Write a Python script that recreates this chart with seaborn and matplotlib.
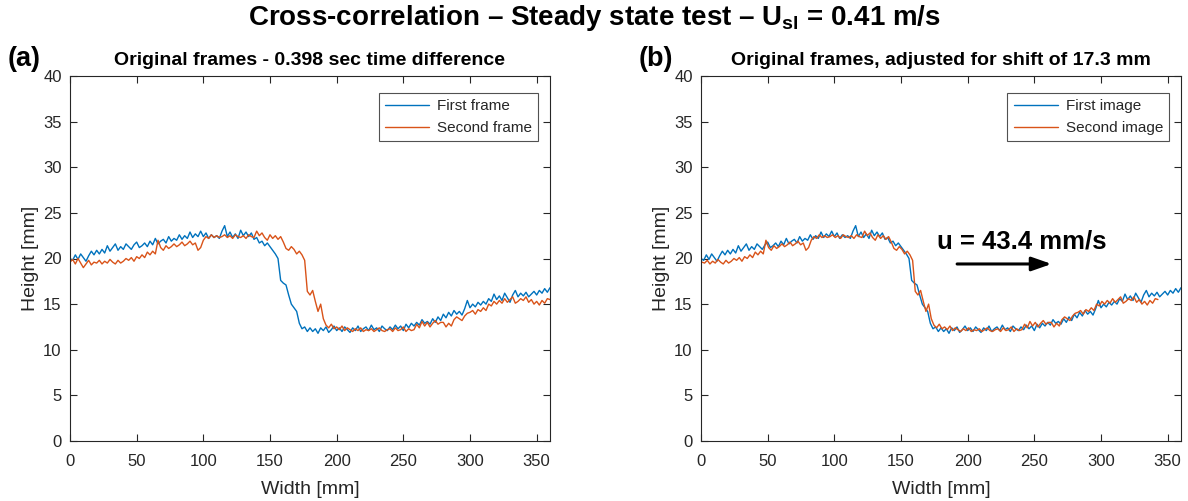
import numpy as np
import pandas as pd
import matplotlib
matplotlib.use("Agg")
import matplotlib.pyplot as plt
import seaborn as sns

# ---------------- data ----------------
width_mm = list(range(0, 361, 2))
shift_mm = 17.3

first_frame = [
    20.0, 19.8, 20.4, 19.9, 20.5, 20.1, 19.7, 20.3, 20.8, 20.4,
    20.9, 20.5, 21.0, 20.6, 21.4, 20.8, 21.2, 21.6, 20.9, 21.3,
    21.0, 21.6, 21.3, 21.0, 21.5, 21.8, 21.2, 21.4, 21.7, 21.3,
    21.9, 21.5, 22.2, 21.6, 21.9, 22.1, 21.7, 22.4, 21.9, 22.2,
    22.0, 22.6, 22.1, 22.5, 22.2, 22.9, 22.3, 22.7, 22.4, 23.0,
    22.4, 22.8, 22.2, 22.6, 22.3, 22.5, 22.2, 23.0, 23.6, 22.4,
    22.9, 22.3, 22.7, 22.2, 23.1, 22.5, 22.9, 22.4, 22.8, 22.1,
    22.3, 21.7, 21.9, 21.4, 21.7, 21.3, 20.9, 20.5, 20.0, 17.6,
    17.3, 17.1, 16.0, 15.0, 14.6, 14.2, 12.9, 12.3, 12.5, 12.0,
    12.4, 12.0, 12.3, 11.8, 12.4, 12.1, 12.5, 11.9, 12.2, 12.6,
    12.1, 12.4, 12.0, 12.5, 12.2, 11.9, 12.4, 12.1, 12.6, 12.0,
    12.3, 12.5, 12.1, 12.7, 12.2, 12.4, 12.0, 12.6, 12.3, 12.1,
    12.5, 12.2, 12.7, 12.3, 12.6, 12.1, 12.8, 12.4, 12.9, 12.6,
    13.0, 12.7, 13.3, 12.9, 13.1, 12.8, 13.4, 13.0, 13.6, 13.2,
    13.9, 13.5, 14.1, 13.7, 14.3, 13.9, 14.2, 13.8, 14.5, 15.4,
    14.6, 15.0, 14.7, 15.2, 14.9, 15.3, 15.0, 15.6, 15.3, 16.1,
    15.5, 15.9, 15.4, 16.2, 15.7, 15.2, 16.0, 16.5, 15.8, 16.2,
    15.9, 16.3, 15.8, 16.1, 16.4, 16.0, 16.5, 16.2, 16.7, 16.3,
    16.8,
]

second_frame = [
    19.6, 19.9, 19.4, 20.0, 19.5, 19.0, 19.4, 19.8, 19.3, 19.6,
    19.5, 19.8, 19.4, 19.7, 19.5, 19.9, 19.6, 19.4, 19.8, 19.5,
    19.7, 20.0, 19.8, 20.1, 19.7, 20.2, 20.0, 20.4, 20.1, 20.7,
    20.4, 20.8, 20.5, 22.0, 21.2, 20.9, 21.4, 21.1, 21.3, 21.6,
    21.3, 21.5, 21.8, 21.4, 21.6, 21.9, 21.5, 21.7, 20.9, 21.2,
    22.0, 22.4, 22.2, 22.6, 22.3, 22.5, 22.3, 22.4, 22.6, 22.3,
    22.5, 22.2, 22.6, 22.4, 22.3, 22.5, 22.2, 22.6, 22.4, 22.3,
    23.0, 22.5, 22.8, 22.3, 22.0, 22.6, 22.2, 22.5, 22.1, 22.4,
    21.8, 21.1, 20.9, 21.3, 21.0, 20.5, 20.8, 20.4, 19.8, 16.4,
    16.0, 16.5, 15.3, 14.2, 15.0, 13.4, 12.7, 12.4, 12.8, 12.3,
    12.5, 12.2, 12.6, 12.1, 12.4, 12.2, 12.0, 12.3, 12.1, 12.4,
    12.0, 12.2, 12.1, 12.3, 12.0, 12.2, 12.4, 12.1, 12.0, 12.2,
    12.3, 12.0, 12.4, 12.1, 12.2, 12.5, 12.0, 12.3, 12.1, 12.2,
    12.8, 12.4, 13.1, 12.6, 13.0, 12.5, 12.9, 13.2, 12.8, 13.0,
    13.0, 12.5, 12.9, 12.6, 13.3, 13.6, 13.4, 13.2, 13.7, 14.0,
    14.1, 14.3, 13.9, 14.4, 14.2, 14.6, 14.3, 15.0, 14.8, 15.3,
    15.0, 15.4, 15.1, 15.6, 15.2, 15.5, 15.8, 15.1, 15.3, 15.6,
    15.4, 15.8, 15.2, 15.5, 15.0, 15.3, 14.9, 15.4, 15.1, 15.6,
    15.5,
]

x_ticks = [0, 50, 100, 150, 200, 250, 300, 350]
y_ticks = [0, 5, 10, 15, 20, 25, 30, 35, 40]
velocity_label = "u = 43.4 mm/s"

# ---------------- style ----------------
sns.set_theme(style="white")
plt.rcParams["font.family"] = ["Liberation Sans", "DejaVu Sans"]
plt.rcParams["mathtext.fontset"] = "custom"
plt.rcParams["mathtext.rm"] = "Liberation Sans"
plt.rcParams["mathtext.bf"] = "Liberation Sans:bold"

BLUE = "#0072BD"
ORANGE = "#D95319"
AXC = "#262626"

fig = plt.figure(figsize=(11.88, 5.01), dpi=100)
ax_a = fig.add_axes([70 / 1188, 60 / 501, 480 / 1188, 365 / 501])
ax_b = fig.add_axes([701 / 1188, 60 / 501, 480 / 1188, 365 / 501])

df1 = pd.DataFrame({"x": width_mm, "y": first_frame})
df2 = pd.DataFrame({"x": width_mm, "y": second_frame})
df2s = pd.DataFrame({"x": np.array(width_mm) - shift_mm, "y": second_frame})

sns.lineplot(data=df1, x="x", y="y", ax=ax_a, color=BLUE, lw=1.0, label="First frame")
sns.lineplot(data=df2, x="x", y="y", ax=ax_a, color=ORANGE, lw=1.0, label="Second frame")
sns.lineplot(data=df1, x="x", y="y", ax=ax_b, color=BLUE, lw=1.0, label="First image")
sns.lineplot(data=df2s, x="x", y="y", ax=ax_b, color=ORANGE, lw=1.0, label="Second image")

titles = ["Original frames - 0.398 sec time difference",
          "Original frames, adjusted for shift of 17.3 mm"]
for ax, t, tag in zip([ax_a, ax_b], titles, ["(a)", "(b)"]):
    ax.set_xlim(0, 360)
    ax.set_ylim(0, 40)
    ax.set_xticks(x_ticks)
    ax.set_yticks(y_ticks)
    ax.set_xlabel("Width [mm]", fontsize=14, color=AXC, labelpad=9)
    ax.set_ylabel("Height [mm]", fontsize=14, color=AXC, labelpad=3)
    ax.set_title(t, fontsize=14, fontweight="bold", color="black", pad=8)
    ax.tick_params(direction="in", length=5, width=0.8, colors=AXC,
                   labelsize=12, top=True, right=True, bottom=True, left=True,
                   labeltop=False, labelright=False, pad=6)
    ax.tick_params(axis="x", pad=9)
    for s in ax.spines.values():
        s.set_visible(True)
        s.set_color(AXC)
        s.set_linewidth(0.8)
    leg = ax.legend(loc="upper right", fontsize=11, frameon=True, fancybox=False,
                    edgecolor=AXC, borderpad=0.4, handlelength=2.9,
                    labelspacing=0.5, handletextpad=0.5, borderaxespad=0,
                    bbox_to_anchor=(0.975, 0.953))
    leg.get_frame().set_linewidth(0.8)
    ax.text(-0.13, 1.01, tag, transform=ax.transAxes, fontsize=19.5,
            fontweight="bold", ha="left", va="bottom", color="black")

ax_b.annotate("", xy=(265, 19.4), xytext=(190, 19.4),
              arrowprops=dict(arrowstyle="-|>,head_length=1.0,head_width=0.35",
                              color="black", lw=2.2))
ax_b.text(177, 20.6, velocity_label, fontsize=18.5, fontweight="bold",
          ha="left", va="bottom", color="black")

fig.suptitle(r"Cross-correlation – Steady state test – $\mathbf{U_{sl}}$ = 0.41 m/s",
             fontsize=20, fontweight="bold", y=1 - 18 / 501, va="center",
             color="black")

fig.savefig("out.png", dpi=100)
